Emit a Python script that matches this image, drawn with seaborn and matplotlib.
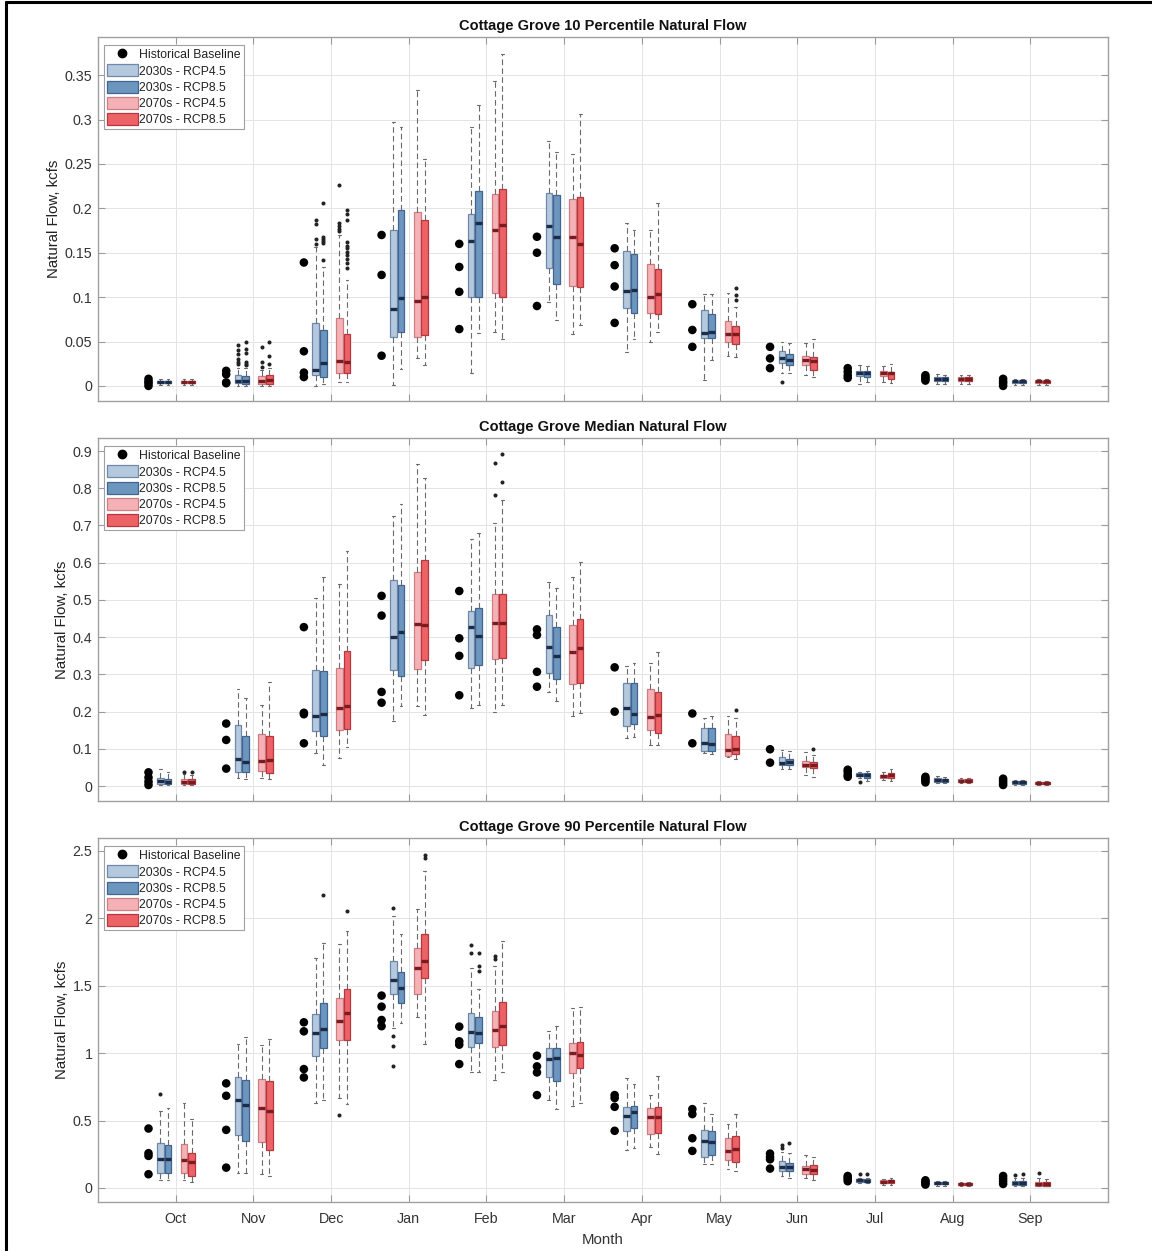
import numpy as np
import pandas as pd
import matplotlib
matplotlib.use("Agg")
import matplotlib.pyplot as plt
import seaborn as sns
from matplotlib.patches import Patch
from matplotlib.lines import Line2D
from matplotlib.ticker import FuncFormatter, MultipleLocator

# ---------------------------------------------------------------- data
MONTHS = ["Oct", "Nov", "Dec", "Jan", "Feb", "Mar", "Apr", "May", "Jun", "Jul", "Aug", "Sep"]
SCENARIOS = ["2030s - RCP4.5", "2030s - RCP8.5", "2070s - RCP4.5", "2070s - RCP8.5"]
TITLES = ["Cottage Grove 10 Percentile Natural Flow",
          "Cottage Grove Median Natural Flow",
          "Cottage Grove 90 Percentile Natural Flow"]

# Historical baseline points (per month)
P10_HIST = [[0.008, 0.005, 0.003, 0.0], [0.017, 0.013, 0.004, 0.003], [0.139, 0.039, 0.015, 0.010],
            [0.170, 0.125, 0.034], [0.160, 0.134, 0.106, 0.064], [0.168, 0.150, 0.090],
            [0.155, 0.136, 0.112, 0.071], [0.092, 0.063, 0.044], [0.044, 0.031, 0.020],
            [0.020, 0.016, 0.012, 0.009], [0.012, 0.010, 0.008, 0.006], [0.008, 0.005, 0.003, 0.0]]
P50_HIST = [[0.037, 0.023, 0.012, 0.003], [0.168, 0.124, 0.047], [0.427, 0.197, 0.193, 0.115],
            [0.511, 0.458, 0.253, 0.224], [0.524, 0.397, 0.350, 0.244], [0.421, 0.406, 0.307, 0.267],
            [0.319, 0.200], [0.195, 0.115], [0.099, 0.063],
            [0.044, 0.038, 0.030, 0.025], [0.025, 0.020, 0.015, 0.010], [0.020, 0.014, 0.008, 0.003]]
P90_HIST = [[0.441, 0.258, 0.238, 0.102], [0.776, 0.684, 0.431, 0.151], [1.229, 1.162, 0.882, 0.820],
            [1.427, 1.345, 1.246, 1.200], [1.197, 1.088, 1.063, 0.919], [0.981, 0.902, 0.857, 0.689],
            [0.689, 0.667, 0.602, 0.424], [0.585, 0.548, 0.369, 0.275], [0.255, 0.230, 0.213, 0.144],
            [0.089, 0.077, 0.065, 0.050], [0.057, 0.045, 0.035, 0.025], [0.089, 0.070, 0.050, 0.030]]

# Box statistics per month: (whisker low, q1, median, q3, whisker high)
P10_2030_45 = [(0.001, 0.003, 0.004, 0.006, 0.008), (0.0, 0.003, 0.006, 0.012, 0.020),
               (0.0, 0.012, 0.018, 0.071, 0.157), (0.001, 0.055, 0.087, 0.176, 0.297),
               (0.015, 0.100, 0.163, 0.194, 0.292), (0.095, 0.133, 0.180, 0.217, 0.276),
               (0.038, 0.088, 0.107, 0.152, 0.183), (0.007, 0.054, 0.060, 0.086, 0.103),
               (0.014, 0.026, 0.031, 0.039, 0.049), (0.002, 0.011, 0.015, 0.017, 0.023),
               (0.002, 0.006, 0.008, 0.010, 0.013), (0.001, 0.003, 0.005, 0.006, 0.008)]
P10_2030_85 = [(0.001, 0.003, 0.004, 0.006, 0.008), (0.0, 0.002, 0.006, 0.011, 0.020),
               (0.002, 0.010, 0.026, 0.063, 0.134), (0.019, 0.061, 0.099, 0.198, 0.292),
               (0.060, 0.100, 0.184, 0.219, 0.316), (0.074, 0.115, 0.168, 0.215, 0.263),
               (0.053, 0.082, 0.108, 0.149, 0.176), (0.029, 0.054, 0.061, 0.081, 0.104),
               (0.014, 0.023, 0.029, 0.036, 0.048), (0.004, 0.010, 0.014, 0.017, 0.022),
               (0.002, 0.006, 0.008, 0.010, 0.012), (0.001, 0.003, 0.005, 0.006, 0.008)]
P10_2070_45 = [(0.001, 0.003, 0.004, 0.006, 0.008), (0.0, 0.002, 0.006, 0.011, 0.018),
               (0.004, 0.014, 0.028, 0.077, 0.170), (0.031, 0.055, 0.096, 0.196, 0.333),
               (0.061, 0.105, 0.176, 0.216, 0.343), (0.059, 0.113, 0.168, 0.210, 0.261),
               (0.049, 0.082, 0.100, 0.137, 0.176), (0.034, 0.049, 0.058, 0.073, 0.105),
               (0.012, 0.023, 0.029, 0.034, 0.048), (0.004, 0.011, 0.015, 0.017, 0.022),
               (0.002, 0.006, 0.008, 0.010, 0.012), (0.001, 0.003, 0.005, 0.006, 0.008)]
P10_2070_85 = [(0.001, 0.003, 0.004, 0.006, 0.008), (0.0, 0.002, 0.007, 0.012, 0.020),
               (0.004, 0.015, 0.027, 0.059, 0.119), (0.023, 0.057, 0.100, 0.187, 0.256),
               (0.053, 0.100, 0.181, 0.222, 0.374), (0.069, 0.111, 0.160, 0.213, 0.306),
               (0.061, 0.081, 0.104, 0.132, 0.206), (0.032, 0.047, 0.058, 0.067, 0.089),
               (0.010, 0.018, 0.028, 0.032, 0.053), (0.003, 0.008, 0.014, 0.016, 0.025),
               (0.002, 0.006, 0.008, 0.010, 0.012), (0.001, 0.003, 0.005, 0.006, 0.008)]

P50_2030_45 = [(0.003, 0.005, 0.013, 0.021, 0.046), (0.021, 0.039, 0.074, 0.164, 0.262),
               (0.088, 0.149, 0.189, 0.313, 0.504), (0.175, 0.312, 0.400, 0.553, 0.725),
               (0.209, 0.316, 0.428, 0.470, 0.664), (0.253, 0.305, 0.374, 0.459, 0.547),
               (0.128, 0.162, 0.211, 0.276, 0.323), (0.088, 0.095, 0.117, 0.157, 0.184),
               (0.046, 0.058, 0.063, 0.079, 0.097), (0.021, 0.027, 0.031, 0.034, 0.039),
               (0.009, 0.012, 0.016, 0.021, 0.026), (0.004, 0.007, 0.010, 0.013, 0.016)]
P50_2030_85 = [(0.003, 0.005, 0.012, 0.018, 0.039), (0.019, 0.037, 0.065, 0.134, 0.236),
               (0.056, 0.134, 0.195, 0.309, 0.561), (0.215, 0.296, 0.413, 0.540, 0.758),
               (0.218, 0.325, 0.404, 0.478, 0.679), (0.228, 0.287, 0.349, 0.428, 0.533),
               (0.131, 0.167, 0.193, 0.276, 0.332), (0.086, 0.095, 0.112, 0.157, 0.189),
               (0.047, 0.056, 0.065, 0.074, 0.094), (0.014, 0.022, 0.030, 0.034, 0.041),
               (0.009, 0.012, 0.016, 0.020, 0.025), (0.004, 0.007, 0.010, 0.013, 0.016)]
P50_2070_45 = [(0.003, 0.005, 0.012, 0.018, 0.032), (0.021, 0.041, 0.068, 0.140, 0.219),
               (0.076, 0.152, 0.210, 0.316, 0.543), (0.215, 0.315, 0.435, 0.576, 0.865),
               (0.200, 0.342, 0.439, 0.516, 0.708), (0.188, 0.274, 0.361, 0.434, 0.561),
               (0.110, 0.152, 0.186, 0.260, 0.330), (0.079, 0.081, 0.097, 0.140, 0.189),
               (0.030, 0.052, 0.058, 0.067, 0.092), (0.016, 0.022, 0.027, 0.031, 0.039),
               (0.008, 0.011, 0.014, 0.018, 0.022), (0.004, 0.007, 0.009, 0.012, 0.015)]
P50_2070_85 = [(0.003, 0.005, 0.012, 0.018, 0.030), (0.018, 0.034, 0.070, 0.134, 0.280),
               (0.106, 0.153, 0.215, 0.364, 0.632), (0.190, 0.340, 0.434, 0.607, 0.828),
               (0.218, 0.345, 0.437, 0.516, 0.768), (0.197, 0.278, 0.370, 0.450, 0.601),
               (0.110, 0.143, 0.191, 0.252, 0.361), (0.074, 0.086, 0.099, 0.134, 0.184),
               (0.025, 0.049, 0.058, 0.064, 0.083), (0.015, 0.021, 0.029, 0.034, 0.045),
               (0.008, 0.011, 0.014, 0.018, 0.022), (0.004, 0.007, 0.009, 0.012, 0.015)]

P90_2030_45 = [(0.057, 0.114, 0.213, 0.330, 0.572), (0.114, 0.391, 0.652, 0.820, 1.068),
               (0.629, 0.976, 1.152, 1.291, 1.707), (1.187, 1.440, 1.544, 1.680, 2.014),
               (0.857, 1.043, 1.160, 1.298, 1.633), (0.652, 0.820, 0.956, 1.036, 1.167),
               (0.282, 0.419, 0.535, 0.602, 0.815), (0.181, 0.230, 0.349, 0.429, 0.634),
               (0.089, 0.126, 0.159, 0.201, 0.270), (0.040, 0.045, 0.057, 0.064, 0.077),
               (0.018, 0.028, 0.035, 0.042, 0.052), (0.015, 0.022, 0.035, 0.052, 0.077)]
P90_2030_85 = [(0.057, 0.114, 0.218, 0.320, 0.592), (0.114, 0.349, 0.614, 0.803, 1.117),
               (0.652, 1.038, 1.179, 1.370, 1.816), (1.221, 1.373, 1.482, 1.601, 1.886),
               (0.857, 1.073, 1.150, 1.266, 1.477), (0.585, 0.790, 0.964, 1.038, 1.204),
               (0.300, 0.448, 0.567, 0.610, 0.771), (0.181, 0.243, 0.342, 0.419, 0.548),
               (0.077, 0.126, 0.159, 0.183, 0.263), (0.040, 0.045, 0.055, 0.064, 0.077),
               (0.018, 0.028, 0.035, 0.042, 0.052), (0.015, 0.022, 0.035, 0.052, 0.077)]
P90_2070_45 = [(0.057, 0.114, 0.208, 0.325, 0.627), (0.102, 0.342, 0.590, 0.808, 1.060),
               (0.664, 1.098, 1.241, 1.410, 1.811), (1.266, 1.440, 1.630, 1.781, 2.071),
               (0.800, 1.048, 1.172, 1.316, 1.643), (0.610, 0.852, 1.001, 1.075, 1.335),
               (0.305, 0.404, 0.528, 0.592, 0.689), (0.139, 0.206, 0.275, 0.374, 0.478),
               (0.077, 0.107, 0.139, 0.164, 0.245), (0.022, 0.037, 0.047, 0.057, 0.064),
               (0.015, 0.022, 0.030, 0.037, 0.045), (0.015, 0.018, 0.030, 0.047, 0.077)]
P90_2070_85 = [(0.047, 0.089, 0.196, 0.263, 0.515), (0.089, 0.280, 0.572, 0.795, 1.105),
               (0.622, 1.098, 1.296, 1.474, 1.905), (1.068, 1.558, 1.682, 1.886, 2.351),
               (0.857, 1.063, 1.204, 1.378, 1.829), (0.627, 0.889, 0.989, 1.080, 1.345),
               (0.255, 0.411, 0.528, 0.597, 0.833), (0.126, 0.196, 0.287, 0.387, 0.548),
               (0.059, 0.102, 0.131, 0.169, 0.233), (0.022, 0.040, 0.050, 0.059, 0.077),
               (0.015, 0.022, 0.030, 0.037, 0.045), (0.015, 0.018, 0.030, 0.047, 0.070)]

# Outliers: (scenario index, month index) -> values
P10_FLIERS = {(0, 1): [0.046, 0.041, 0.036, 0.030, 0.027, 0.025],
              (1, 1): [0.050, 0.042, 0.037, 0.027, 0.025, 0.023],
              (2, 1): [0.044, 0.027, 0.021],
              (3, 1): [0.049, 0.034, 0.025],
              (0, 2): [0.187, 0.182, 0.166, 0.160],
              (1, 2): [0.206, 0.168, 0.165, 0.163, 0.161, 0.142],
              (2, 2): [0.226, 0.183, 0.180, 0.177, 0.175],
              (3, 2): [0.198, 0.194, 0.187, 0.162, 0.158, 0.155, 0.151, 0.147, 0.143, 0.139, 0.133],
              (3, 7): [0.110, 0.102, 0.097],
              (0, 8): [0.004]}
P50_FLIERS = {(2, 0): [0.039], (3, 0): [0.039],
              (2, 4): [0.867, 0.782], (3, 4): [0.891, 0.818],
              (3, 7): [0.204], (3, 8): [0.101], (0, 9): [0.012]}
P90_FLIERS = {(0, 0): [0.696],
              (0, 3): [2.076, 1.125, 1.055, 0.907],
              (1, 2): [2.170], (2, 2): [0.540], (3, 2): [2.051],
              (3, 3): [2.473, 2.448],
              (0, 4): [1.799, 1.742], (1, 4): [1.742, 1.643, 1.613], (2, 4): [1.72, 1.70],
              (0, 8): [0.320, 0.300], (1, 8): [0.332],
              (0, 9): [0.102], (1, 9): [0.102],
              (0, 11): [0.094], (1, 11): [0.100], (2, 11): [0.114]}

PANELS = [
    dict(hist=P10_HIST, boxes=[P10_2030_45, P10_2030_85, P10_2070_45, P10_2070_85],
         fliers=P10_FLIERS, ylim=(-0.017, 0.393), ystep=0.05),
    dict(hist=P50_HIST, boxes=[P50_2030_45, P50_2030_85, P50_2070_45, P50_2070_85],
         fliers=P50_FLIERS, ylim=(-0.040, 0.935), ystep=0.1),
    dict(hist=P90_HIST, boxes=[P90_2030_45, P90_2030_85, P90_2070_45, P90_2070_85],
         fliers=P90_FLIERS, ylim=(-0.104, 2.596), ystep=0.5),
]

# ---------------------------------------------------------------- style
FILL = ["#b5c9de", "#6d96bf", "#f5b2b6", "#ec6267"]
EDGE = ["#6f89aa", "#3f6590", "#d07c82", "#b8363c"]
MED = ["#1c2c48", "#1c2c48", "#7a1b20", "#7a1b20"]
OFFSETS = [-0.197, -0.100, 0.108, 0.206]
HIST_OFFSET = -0.35
BOX_W = 0.086

sns.set_theme(style="white")
plt.rcParams["font.family"] = ["Liberation Sans", "DejaVu Sans"]

fig = plt.figure(figsize=(11.52, 12.51), dpi=100)
L, R = 98 / 1152, 1108 / 1152
tops = [37, 438, 838]
bots = [401, 801, 1202]
H = 1251.0

x = np.arange(1, 13)
for p, panel in enumerate(PANELS):
    ax = fig.add_axes([L, 1 - bots[p] / H, R - L, (bots[p] - tops[p]) / H])
    ax.set_xlim(0, 13)
    ax.set_ylim(*panel["ylim"])
    ax.set_xticks(x)
    ax.yaxis.set_major_locator(MultipleLocator(panel["ystep"]))
    ax.yaxis.set_major_formatter(FuncFormatter(lambda v, pos: f"{v:g}" if abs(v) > 1e-9 else "0"))
    ax.grid(True, color="#e4e4e4", linewidth=0.7)
    ax.set_axisbelow(True)
    for sp in ax.spines.values():
        sp.set_color("#a0a0a0")
        sp.set_linewidth(1.0)
    ax.tick_params(axis="both", direction="in", length=5, width=0.8, color="#9a9a9a",
                   labelsize=10.3, labelcolor="#333333", top=True, right=True, bottom=True, left=True)
    ax.tick_params(axis="y", pad=4)

    # boxes
    for s, stats_list in enumerate(panel["boxes"]):
        stats = []
        for m, (lo, q1, med, q3, hi) in enumerate(stats_list):
            stats.append(dict(whislo=lo, q1=q1, med=med, q3=q3, whishi=hi,
                              fliers=panel["fliers"].get((s, m), [])))
        ax.bxp(stats, positions=x + OFFSETS[s], widths=BOX_W, patch_artist=True,
               manage_ticks=False, capwidths=0.035,
               boxprops=dict(facecolor=FILL[s], edgecolor=EDGE[s], linewidth=0.9),
               medianprops=dict(color=MED[s], linewidth=2.4, solid_capstyle="butt"),
               whiskerprops=dict(color="#6a6a6a", linestyle=(0, (5, 3)), linewidth=0.8),
               capprops=dict(color="#6a6a6a", linewidth=0.8),
               flierprops=dict(marker="o", markersize=1.9, markerfacecolor="#222222",
                               markeredgecolor="#222222", linestyle="none"))

    # historical baseline dots
    rows = []
    for m, vals in enumerate(panel["hist"]):
        for v in vals:
            rows.append((m + 1 + HIST_OFFSET, v))
    df = pd.DataFrame(rows, columns=["xpos", "value"])
    sns.scatterplot(data=df, x="xpos", y="value", ax=ax, color="black", s=38,
                    edgecolor="none", legend=False, zorder=5)

    if p < 2:
        ax.set_xticklabels([])
        ax.set_xlabel("")
    else:
        ax.set_xticklabels(MONTHS)
        ax.tick_params(axis="x", pad=7)
        ax.set_xlabel("Month", fontsize=10.8, color="#333333", labelpad=5)
    ax.set_ylabel("Natural Flow, kcfs", fontsize=10.8, color="#222222", labelpad=3)
    ax.set_title(TITLES[p], fontsize=10.5, fontweight="bold", color="#111111", pad=5)

    handles = [Line2D([], [], marker="o", color="black", linestyle="none", markersize=6)]
    handles += [Patch(facecolor=FILL[i], edgecolor=EDGE[i], linewidth=0.9) for i in range(4)]
    leg = ax.legend(handles, ["Historical Baseline"] + SCENARIOS, loc="upper left",
                    bbox_to_anchor=(0.006, 0.978), fontsize=8.8, frameon=True, fancybox=False,
                    framealpha=1, edgecolor="#a0a0a0", borderpad=0.25, labelspacing=0.25,
                    handlelength=2.5, handleheight=1.15, handletextpad=0.12, borderaxespad=0.0)
    leg.get_frame().set_linewidth(0.8)
    for t in leg.get_texts():
        t.set_color("#222222")

# figure border (left and top edges, as in the screenshot)
fig.add_artist(Line2D([6 / 1152, 6 / 1152], [0, 1 - 2 / H], color="black", linewidth=2.2,
                      transform=fig.transFigure))
fig.add_artist(Line2D([6 / 1152, 1], [1 - 2 / H, 1 - 2 / H], color="black", linewidth=2.2,
                      transform=fig.transFigure))

fig.savefig("out.png", dpi=100, facecolor="white")
